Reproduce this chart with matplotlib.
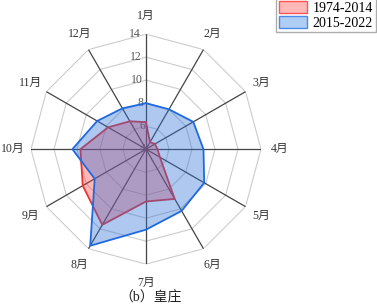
import numpy as np
import matplotlib
matplotlib.use('Agg')
import matplotlib.pyplot as plt
from matplotlib.patches import Patch

plt.rcParams['font.family'] = ['Liberation Serif', 'Noto Sans CJK SC']

months = ['1月', '2月', '3月', '4月', '5月', '6月',
          '7月', '8月', '9月', '10月', '11月', '12月']
old_vals = [6.35, 4.7, 4.9, 5.0, 5.4, 9.0, 8.55, 11.6, 10.35, 9.7, 7.8, 6.8]
new_vals = [8.0, 8.0, 8.75, 9.0, 9.85, 10.2, 11.0, 13.7, 9.15, 10.4, 8.9, 8.1]
labels = ['1974-2014', '2015-2022']
r_ticks = [4, 6, 8, 10, 12, 14]
title = '（b）皇庄'

r_min = 4
r_max = 14

n = len(months)
theta = np.arange(n) * 2 * np.pi / n
theta_c = np.append(theta, theta[0])

fig = plt.figure(figsize=(3.77, 3.08), dpi=100)
ax = fig.add_axes([0.0822, 0.1422, 0.610, 0.747], projection='polar')
ax.set_theta_zero_location('N')
ax.set_theta_direction(-1)
ax.set_ylim(r_min, r_max)
ax.grid(False)
ax.set_xticks([])
ax.set_yticks([])
ax.spines['polar'].set_visible(False)
ax.patch.set_alpha(0)

# polygon rings
for r in r_ticks[1:]:
    ax.plot(theta_c, [r] * (n + 1), color='#cccccc', lw=0.8, zorder=1)
# spokes
for t in theta:
    ax.plot([t, t], [r_min, r_max], color='#444444', lw=0.9, zorder=1)

# radial tick labels
for r in r_ticks:
    ax.text(np.deg2rad(-2.5), r, str(r), ha='right', va='center',
            fontsize=8.5, color='#555555', zorder=1)

# series
old_c = np.append(old_vals, old_vals[0])
new_c = np.append(new_vals, new_vals[0])
ax.fill(theta_c, old_c, color='#ff3333', alpha=0.35, zorder=2, lw=0)
ax.plot(theta_c, old_c, color='#ee3333', lw=1.3, zorder=2)
ax.fill(theta_c, new_c, color='#2a6fd8', alpha=0.38, zorder=3, lw=0)
ax.plot(theta_c, new_c, color='#1f6ae0', lw=1.3, zorder=3)

# month labels
for t, m in zip(theta, months):
    ax.text(t, 15.6, m, ha='center', va='center', fontsize=8.5,
            color='#333333', clip_on=False)

fig.text(0.40, 0.032, title, ha='center', va='center', fontsize=10,
         color='#222222')

handles = [Patch(facecolor='#ffb8b8', edgecolor='#ff5555', lw=1),
           Patch(facecolor='#b0cdf5', edgecolor='#4a8ae8', lw=1)]
fig.legend(handles, labels, loc='upper right', bbox_to_anchor=(1.0, 1.01),
           fontsize=10, frameon=True, fancybox=False, edgecolor='#999999',
           handlelength=2.0, handleheight=0.9, borderpad=0.2,
           labelspacing=0.1, handletextpad=0.4, borderaxespad=0.1)

fig.savefig('out.png', dpi=100)
